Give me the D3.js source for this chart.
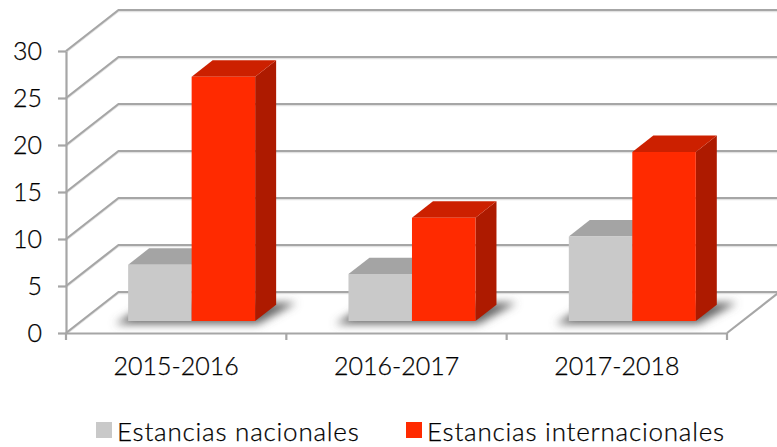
<!DOCTYPE html>
<html>
<head>
<meta charset="utf-8">
<script src="https://cdn.jsdelivr.net/npm/d3@7"></script>
<style>
    html, body { margin: 0; padding: 0; background: #fff; }
    svg { display: block; }
    text { font-family: Lato, sans-serif; font-weight: 300; fill: #000; stroke: #000; stroke-width: 0.25px; }
</style>
</head>
<body>
<div id="chart"></div>
<script>
const categories = ['2015-2016', '2016-2017', '2017-2018'];
const seriesNames = ['Estancias nacionales', 'Estancias internacionales'];
const nacionales = [6, 5, 9];
const internacionales = [26, 11, 18];
const yTicks = [0, 5, 10, 15, 20, 25, 30];

const width = 777;
const height = 447;
const svg = d3.select('#chart').append('svg')
    .attr('width', width)
    .attr('height', height);

const x = d3.scaleBand().domain(categories).range([66, 727]);
const y = d3.scaleLinear().domain([0, 30]).range([333, 51]);
// depth goes from the front of the floor (0) to the back wall (1)
const depthX = d3.scaleLinear().domain([0, 1]).range([0, 52.5]);
const depthY = d3.scaleLinear().domain([0, 1]).range([0, -41]);
const groupBand = d3.scaleBand().domain(seriesNames).range([0, 127]);

const project = (px, value, depth) =>
    [px + depthX(depth), y(value) + depthY(depth)];
const line = d3.line();

const defs = svg.append('defs');
defs.append('filter').attr('id', 'shadow-blur')
    .attr('x', '-20%').attr('y', '-50%').attr('width', '140%').attr('height', '200%')
    .append('feGaussianBlur').attr('stdDeviation', 4);

const gridColor = '#a6a6a6';

// walls and floor
const grid = svg.append('g').attr('fill', 'none');
yTicks.forEach((v) => {
    const pts = [project(66, v, 0), project(66, v, 1), [width + 2, y(v) + depthY(1)]];
    grid.append('path').attr('d', line(pts.map((p) => [p[0], p[1] + 1.4])))
        .attr('stroke', '#e2e2e2').attr('stroke-width', 1.5);
    grid.append('path').attr('d', line(pts))
        .attr('stroke', gridColor).attr('stroke-width', 2.2);
});
grid.append('path')
    .attr('d', line([project(727, 0, 0), project(727, 0, 1)]))
    .attr('stroke', gridColor).attr('stroke-width', 2.2);

// bars
const barFront = 0.29;
const barBack = 0.69;
const colors = [
    { front: '#c9c9c9', top: '#a4a4a4', side: '#8f8f8f' },
    { front: '#ff2a00', top: '#cc2000', side: '#ad1a00' },
];
const barOffset = (x.bandwidth() - 127) / 2 + 0.25;

const shadows = svg.append('g').attr('filter', 'url(#shadow-blur)');
categories.forEach((c) => {
    const left = x(c) + barOffset;
    const right = left + 127;
    const pts = [
        [project(left, 0, barFront)[0] - 13, project(left, 0, barFront)[1] + 3],
        [project(right, 0, barFront)[0] + 3, project(right, 0, barFront)[1] + 3],
        [project(right, 0, barBack)[0] + 20, project(right, 0, barBack)[1] - 2],
        [project(left, 0, barBack)[0], project(left, 0, barBack)[1] - 2],
    ];
    shadows.append('path').attr('d', line(pts) + 'Z').attr('fill', '#666');
});

const bars = svg.append('g');
[nacionales, internacionales].forEach((values, s) => {
    categories.forEach((c, i) => {
        const x0 = x(c) + barOffset + groupBand(seriesNames[s]);
        const x1 = x0 + groupBand.bandwidth();
        const v = values[i];
        const col = colors[s];
        const side = [project(x1, 0, barFront), project(x1, 0, barBack),
            project(x1, v, barBack), project(x1, v, barFront)];
        const top = [project(x0, v, barFront), project(x0, v, barBack),
            project(x1, v, barBack), project(x1, v, barFront)];
        const front = [project(x0, 0, barFront), project(x1, 0, barFront),
            project(x1, v, barFront), project(x0, v, barFront)];
        bars.append('path').attr('d', line(side) + 'Z').attr('fill', col.side);
        bars.append('path').attr('d', line(top) + 'Z').attr('fill', col.top);
        bars.append('path').attr('d', line(front) + 'Z').attr('fill', col.front);
    });
});

// axes
const yAxis = svg.append('g')
    .attr('transform', 'translate(66,0)')
    .call(d3.axisLeft(y).tickValues(yTicks).tickSize(8).tickPadding(16).tickSizeOuter(0));
yAxis.selectAll('line, path').attr('stroke', gridColor).attr('stroke-width', 2.2);
yAxis.selectAll('text').attr('font-size', 25).attr('font-family', 'Lato');

const xAxis = svg.append('g')
    .attr('transform', 'translate(0,333)')
    .call(d3.axisBottom(x).tickSize(0).tickPadding(24));
xAxis.select('.domain').attr('stroke', gridColor).attr('stroke-width', 2.2);
xAxis.selectAll('text').attr('font-size', 25).attr('font-family', 'Lato');
xAxis.selectAll('.boundary').data(categories.map((c) => x(c)).concat(x.range()[1]))
    .enter().append('line')
    .attr('x1', (d) => d).attr('x2', (d) => d)
    .attr('y1', 0).attr('y2', 7)
    .attr('stroke', gridColor).attr('stroke-width', 2.2);

// legend
const legendX = [96, 406];
const legend = svg.append('g');
seriesNames.forEach((name, i) => {
    legend.append('rect')
        .attr('x', legendX[i]).attr('y', 422).attr('width', 16).attr('height', 16)
        .attr('fill', colors[i].front);
    legend.append('text')
        .attr('x', legendX[i] + 21).attr('y', 441)
        .attr('font-size', 26)
        .attr('letter-spacing', 0.77)
        .text(name);
});
</script>
</body>
</html>
